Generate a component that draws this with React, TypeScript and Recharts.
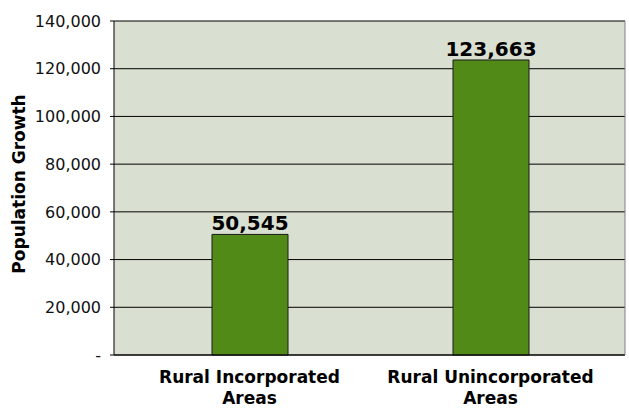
import React from 'react';
import { BarChart, Bar, XAxis, YAxis, CartesianGrid, LabelList, Label } from 'recharts';

const categories = ['Rural Incorporated Areas', 'Rural Unincorporated Areas'];
const categoryLines = [['Rural Incorporated', 'Areas'], ['Rural Unincorporated', 'Areas']];
const growth = [50545, 123663];
const yTicks = [0, 20000, 40000, 60000, 80000, 100000, 120000, 140000];

const data = categories.map((c, i) => ({ name: c, value: growth[i], lines: categoryLines[i] }));

const fmt = (v: number) => (v === 0 ? '-' : v.toLocaleString('en-US'));

const CatTick = (props: any) => {
  const { x, y, index } = props;
  const lines = categoryLines[index] || [String(props.payload.value)];
  return (
    <text x={x} y={y} textAnchor="middle" fontFamily="DejaVu Sans" fontWeight="bold" fontSize={17} fill="#000">
      {lines.map((l: string, i: number) => (
        <tspan key={i} x={x} dy={i === 0 ? 20 : 21}>{l}</tspan>
      ))}
    </text>
  );
};

export default function App() {
  return (
    <div style={{ position: 'absolute', left: 0, top: 0, width: 629, height: 408, background: '#fff' }}>
      <BarChart width={629} height={408} data={data} margin={{ top: 21, right: 2, left: 0, bottom: 0 }}>
        <CartesianGrid vertical={false} stroke="#000" fill="#d9dfd1" fillOpacity={1} />
        <XAxis
          dataKey="name"
          height={53}
          padding={{ left: 15, right: 14 }}
          tickLine={false}
          axisLine={{ stroke: '#000' }}
          tick={<CatTick />}
          interval={0}
        />
        <YAxis
          width={114}
          domain={[0, 140000]}
          ticks={yTicks}
          tickFormatter={fmt}
          tickSize={4}
          tickMargin={9}
          tickLine={{ stroke: '#000' }}
          axisLine={{ stroke: '#000' }}
          tick={{ fontFamily: 'DejaVu Sans', fontSize: 16, fill: '#111' }}
          interval={0}
        >
          <Label
            content={() => (
              <text
                x={19}
                y={184}
                transform="rotate(-90 19 184)"
                textAnchor="middle"
                dominantBaseline="central"
                fontFamily="DejaVu Sans"
                fontWeight="bold"
                fontSize={17}
                fill="#000"
              >
                Population Growth
              </text>
            )}
          />
        </YAxis>
        <YAxis yAxisId="right" orientation="right" width={2} tick={false} tickLine={false} axisLine={{ stroke: '#808080' }} />
        <Bar dataKey="value" barSize={76} fill="#528a17" stroke="#1a1a1a" strokeWidth={1} isAnimationActive={false}>
          <LabelList
            dataKey="value"
            position="top"
            offset={4}
            formatter={(v: any) => Number(v).toLocaleString('en-US')}
            style={{ fontFamily: 'DejaVu Sans', fontWeight: 'bold', fontSize: 20, fill: '#000' }}
          />
        </Bar>
      </BarChart>
    </div>
  );
}
